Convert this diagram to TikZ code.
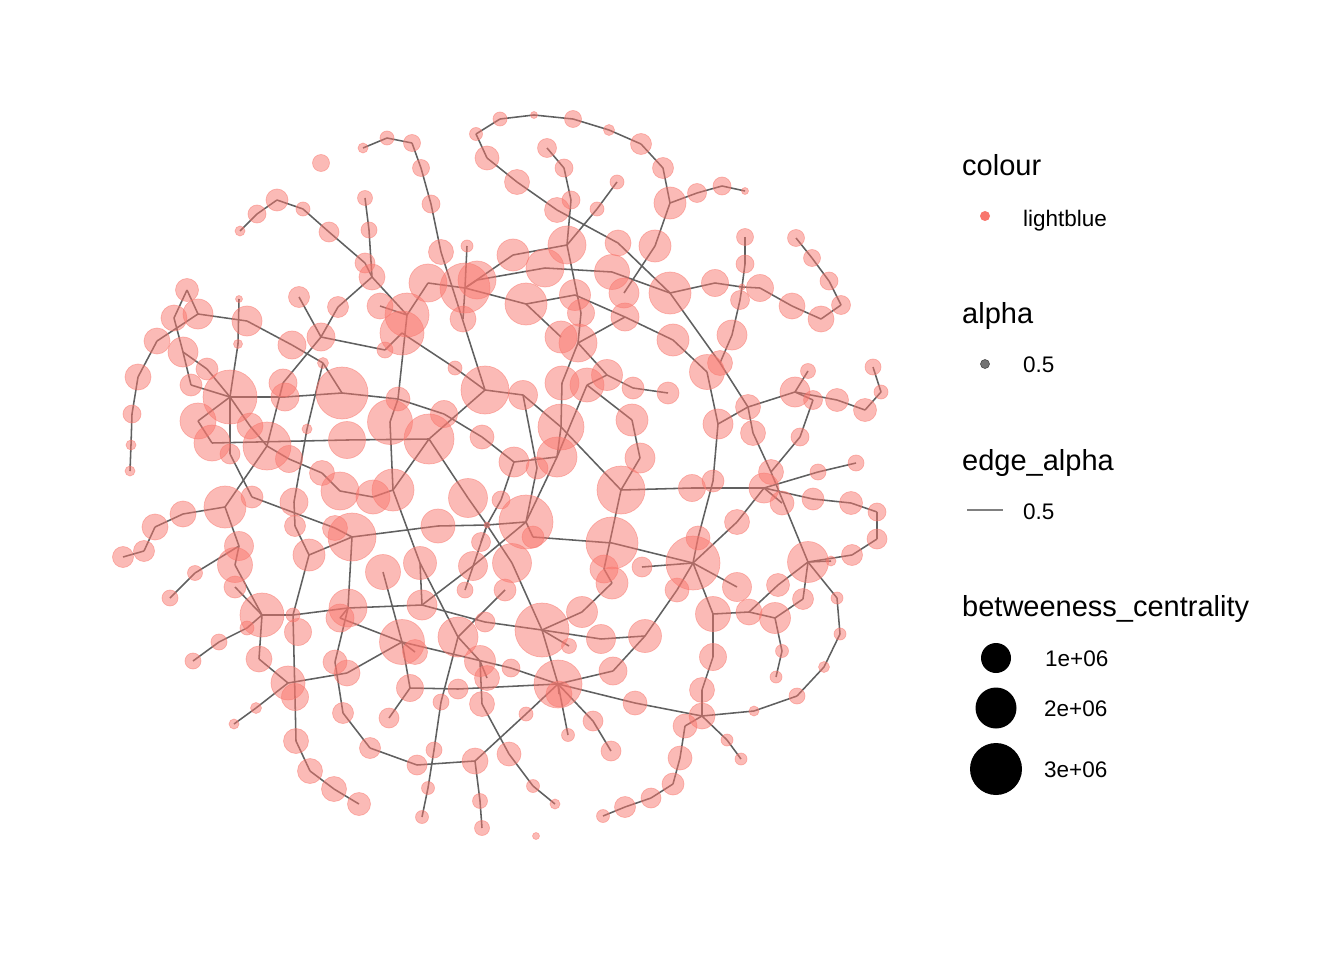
\documentclass[tikz,border=0pt]{standalone}
\usepackage{fontspec}
\setmainfont{Liberation Sans}
\usetikzlibrary{backgrounds}
\definecolor{pk}{RGB}{248,118,109}
\definecolor{eg}{RGB}{96,96,96}
\newcommand\Nd[4]{\node[gn,minimum size={2*#4pt}] (#1) at (#2,#3) {};}
\newcommand\legtitle{\fontsize{29}{34}\selectfont}
\newcommand\leglabel{\fontsize{22.5}{27}\selectfont}
\begin{document}
\begin{tikzpicture}[x=1pt,y=-1pt,
  gn/.style={circle,inner sep=0pt,fill=pk,fill opacity=0.5,draw=pk,draw opacity=0.5,line width=0.7pt},
  lnk/.style={draw=eg,line width=1.55pt},
  ttl/.style={anchor=base west,inner sep=0pt,font=\legtitle},
  lbl/.style={anchor=base west,inner sep=0pt,font=\leglabel}]
\useasboundingbox (0,0) rectangle (1344,960);
% ---- nodes ----
\Nd{a1}{363}{148}{5}\Nd{a2}{387}{138}{7}\Nd{a3}{412}{143}{8.5}\Nd{a4}{421}{168}{8.5}
\Nd{a5}{431}{204}{9}\Nd{a6}{441}{252}{12.5}
\Nd{b1}{321}{163}{8.5}\Nd{b2}{277}{200}{11}\Nd{b3}{257}{214}{9}\Nd{b4}{240}{231}{5}
\Nd{b5}{303}{209}{7}\Nd{b6}{329}{232}{10}\Nd{b7}{365}{198}{7.5}\Nd{b8}{369}{230}{8}
\Nd{b9}{365}{263}{10}\Nd{b10}{372}{277}{13}
\Nd{c1}{187}{290}{11.5}\Nd{c2}{198}{314}{15}\Nd{c3}{174}{318}{13}\Nd{c4}{157}{341}{13}
\Nd{c5}{183}{352}{15}\Nd{c6}{239}{299}{3.5}\Nd{c7}{247}{321}{15}\Nd{c8}{238}{344}{4.5}
\Nd{c9}{299}{297}{10.5}\Nd{c10}{321}{337}{14}\Nd{c11}{292}{345}{14}\Nd{c12}{338}{307}{10.5}
\Nd{c13}{380}{306}{13}\Nd{c14}{407}{315}{22}\Nd{c15}{402}{333}{22}\Nd{c16}{428}{283}{19}
\Nd{c17}{465}{288}{25}\Nd{c18}{477}{280}{19}\Nd{c19}{463}{319}{13}\Nd{c20}{467}{246}{6}
\Nd{d1}{476}{134}{6.5}\Nd{d2}{500}{119}{7}\Nd{d3}{534}{115}{3.5}\Nd{d4}{573}{119}{8.5}
\Nd{d5}{609}{130}{5.5}\Nd{d6}{641}{144}{10.5}\Nd{d7}{663}{168}{10.5}\Nd{d8}{670}{203}{16}
\Nd{d9}{697}{193}{9.5}\Nd{d10}{722}{186}{9}\Nd{d11}{745}{191}{3.5}\Nd{d12}{655}{246}{16}
\Nd{d13}{487}{158}{12}\Nd{d14}{517}{182}{12.5}\Nd{d15}{557}{210}{12.5}\Nd{d16}{547}{148}{9.5}
\Nd{d17}{564}{168}{9}\Nd{d18}{571}{200}{9}\Nd{d19}{567}{245}{19}\Nd{d20}{617}{182}{7}
\Nd{d21}{597}{209}{7}\Nd{d22}{618}{243}{13}\Nd{d23}{612}{272}{17.5}\Nd{d24}{624}{293}{15}
\Nd{d25}{625}{317}{14}\Nd{d26}{513}{255}{16}\Nd{d27}{545}{268}{19}\Nd{d28}{575}{295}{15.5}
\Nd{d29}{581}{313}{13.5}\Nd{d30}{526}{304}{21}\Nd{d31}{561}{337}{16}\Nd{d32}{578}{343}{19}
\Nd{d33}{670}{293}{21}\Nd{d34}{673}{340}{16}
\Nd{e1}{745}{237}{8.5}\Nd{e2}{745}{264}{9}\Nd{e3}{742}{287}{3}\Nd{e4}{740}{300}{9.5}
\Nd{e5}{732}{335}{15}\Nd{e6}{715}{283}{13.5}\Nd{e7}{760}{288}{13.5}\Nd{e8}{792}{306}{13}
\Nd{e9}{821}{319}{13}\Nd{e10}{841}{305}{9.5}\Nd{e11}{829}{281}{9}\Nd{e12}{812}{258}{8.5}
\Nd{e13}{796}{238}{8.5}
\Nd{f1}{707}{372}{17.5}\Nd{f2}{720}{363}{12.5}\Nd{f3}{633}{388}{11}\Nd{f4}{668}{393}{11}
\Nd{f5}{632}{420}{16}\Nd{f6}{640}{458}{15}\Nd{f7}{621}{490}{24}\Nd{f8}{748}{407}{12.5}
\Nd{f9}{718}{424}{15}\Nd{f10}{753}{433}{12.5}\Nd{f11}{795}{392}{15}\Nd{f12}{808}{371}{7.5}
\Nd{f13}{813}{400}{9.5}\Nd{f14}{837}{400}{11.5}\Nd{f15}{865}{410}{11.5}\Nd{f16}{881}{392}{7}
\Nd{f17}{873}{367}{8}\Nd{f18}{800}{437}{9}\Nd{f19}{771}{472}{12.5}\Nd{f20}{764}{488}{15}
\Nd{f21}{782}{503}{12}\Nd{f22}{692}{488}{13.5}\Nd{f23}{713}{481}{11}\Nd{f24}{818}{472}{8}
\Nd{f25}{856}{463}{8}\Nd{f26}{813}{499}{11}\Nd{f27}{851}{503}{11.5}\Nd{f28}{877}{512}{9}
\Nd{f29}{877}{539}{10}\Nd{f30}{852}{555}{10.5}\Nd{f31}{831}{561}{5}\Nd{f32}{808}{562}{20.5}
\Nd{f33}{737}{522}{12.5}\Nd{f34}{698}{538}{12}\Nd{f35}{693}{563}{27}\Nd{f36}{642}{567}{10}
\Nd{f37}{677}{590}{12}\Nd{f38}{737}{587}{14.5}\Nd{f39}{778}{585}{11.5}
\Nd{g1}{207}{369}{11}\Nd{g2}{138}{377}{13}\Nd{g3}{191}{385}{11}\Nd{g4}{230}{397}{27}
\Nd{g5}{132}{414}{9}\Nd{g6}{131}{445}{5}\Nd{g7}{130}{471}{5}\Nd{g8}{198}{421}{18}
\Nd{g9}{212}{443}{18}\Nd{g10}{230}{454}{10}\Nd{g11}{250}{426}{13}\Nd{g12}{267}{446}{24}
\Nd{g13}{289}{459}{13.5}\Nd{g14}{283}{383}{14}\Nd{g15}{285}{397}{14}\Nd{g16}{323}{363}{5.5}
\Nd{g17}{342}{393}{26}\Nd{g18}{347}{440}{18.5}\Nd{g19}{307}{429}{5}\Nd{g20}{322}{473}{12.5}
\Nd{g21}{340}{491}{19}\Nd{g22}{294}{502}{14}\Nd{g23}{295}{526}{10.5}\Nd{g24}{225}{507}{21}
\Nd{g25}{252}{497}{11}\Nd{g26}{183}{514}{13}\Nd{g27}{155}{527}{13}\Nd{g28}{144}{551}{10.5}
\Nd{g29}{123}{557}{10.5}\Nd{g30}{239}{546}{14.5}\Nd{g31}{235}{565}{17.5}\Nd{g32}{195}{573}{7.5}
\Nd{g33}{235}{587}{11}\Nd{g34}{170}{598}{8}\Nd{g35}{309}{555}{16}\Nd{g36}{335}{528}{12.5}
\Nd{g37}{352}{537}{24}\Nd{g38}{373}{497}{17}\Nd{g39}{393}{490}{21}\Nd{g40}{390}{422}{22.5}
\Nd{g41}{383}{572}{17.5}
\Nd{h1}{385}{350}{8}\Nd{h2}{455}{368}{7}\Nd{h3}{485}{390}{24}\Nd{h4}{523}{395}{14.5}
\Nd{h5}{562}{383}{17}\Nd{h6}{587}{385}{17}\Nd{h7}{607}{375}{15.5}\Nd{h8}{561}{427}{23}
\Nd{h9}{557}{457}{20}\Nd{h10}{537}{468}{11}\Nd{h11}{514}{462}{15}\Nd{h12}{482}{437}{12}
\Nd{h13}{444}{414}{13.5}\Nd{h14}{429}{439}{25}\Nd{h15}{398}{399}{12}\Nd{h16}{526}{522}{27}
\Nd{h17}{533}{537}{11}\Nd{h18}{501}{500}{9}\Nd{h19}{468}{498}{19.5}\Nd{h20}{438}{526}{17}
\Nd{h21}{420}{563}{16.5}\Nd{h22}{481}{542}{9.5}\Nd{h23}{473}{566}{14.5}\Nd{h24}{512}{563}{19.5}
\Nd{h25}{465}{590}{8}\Nd{h26}{505}{590}{11}\Nd{h27}{612}{543}{26}\Nd{h28}{604}{569}{14}
\Nd{h29}{612}{583}{16}\Nd{m1}{487}{525}{3}
\Nd{i1}{262}{615}{22}\Nd{i2}{247}{628}{7}\Nd{i3}{293}{615}{7}\Nd{i4}{298}{632}{13.5}
\Nd{i5}{348}{608}{19}\Nd{i6}{340}{618}{14}\Nd{i7}{219}{642}{8}\Nd{i8}{193}{661}{8}
\Nd{i9}{259}{659}{13}\Nd{i10}{288}{683}{17}\Nd{i11}{295}{697}{13.5}\Nd{i12}{335}{662}{12}
\Nd{i13}{347}{673}{13}\Nd{i14}{256}{708}{5.5}\Nd{i15}{234}{724}{5}\Nd{i16}{343}{713}{10.5}
\Nd{i17}{296}{741}{12.5}\Nd{i18}{370}{748}{10.5}\Nd{i19}{310}{771}{12.5}\Nd{i20}{334}{789}{12.5}
\Nd{i21}{359}{804}{11.5}
\Nd{j1}{422}{605}{15}\Nd{j4}{402}{642}{22.5}\Nd{j5}{415}{652}{12.5}\Nd{j6}{458}{637}{20}
\Nd{j7}{485}{622}{10}\Nd{j8}{480}{661}{15.5}\Nd{j9}{487}{678}{12.5}\Nd{j10}{511}{668}{9}
\Nd{j11}{542}{630}{27}\Nd{j12}{582}{612}{15.5}\Nd{j14}{569}{646}{7.5}\Nd{j15}{601}{639}{14.5}
\Nd{j16}{645}{636}{16.5}\Nd{j17}{558}{684}{24}\Nd{j18}{559}{694}{13}\Nd{j19}{613}{671}{14}
\Nd{j20}{635}{703}{12}\Nd{j21}{526}{714}{7}\Nd{j22}{593}{721}{10}\Nd{j23}{568}{735}{6.5}
\Nd{j24}{611}{751}{10}\Nd{j25}{410}{688}{13.5}\Nd{j26}{458}{689}{10}\Nd{j27}{441}{702}{8}
\Nd{j28}{482}{704}{12.5}\Nd{j29}{389}{718}{10}\Nd{j30}{417}{765}{10}\Nd{j31}{434}{750}{8}
\Nd{j32}{475}{761}{13}\Nd{j33}{509}{754}{12}\Nd{j34}{428}{788}{6.5}\Nd{j35}{422}{817}{6.5}
\Nd{j36}{480}{801}{7.5}\Nd{j37}{482}{828}{7.5}\Nd{j38}{533}{786}{6.5}\Nd{j39}{555}{804}{5}
\Nd{j40}{536}{836}{3.5}\Nd{j41}{603}{816}{6.5}\Nd{j42}{625}{807}{10.5}
\Nd{k2}{713}{614}{17.5}\Nd{k3}{749}{612}{13}\Nd{k4}{775}{618}{15.5}\Nd{k6}{803}{599}{10.5}
\Nd{k7}{837}{598}{6}\Nd{k8}{840}{634}{6}\Nd{k9}{824}{667}{5.5}\Nd{k10}{797}{696}{8}
\Nd{k11}{754}{711}{5}\Nd{k12}{782}{651}{6.5}\Nd{k13}{776}{677}{6}\Nd{k14}{713}{657}{13.5}
\Nd{k15}{702}{690}{12.5}\Nd{k16}{702}{716}{13}\Nd{k17}{685}{726}{12}\Nd{k18}{727}{740}{6}
\Nd{k19}{741}{759}{6}\Nd{k20}{680}{758}{12}\Nd{k21}{673}{784}{11}\Nd{k22}{651}{798}{10}
% ---- edges (under the nodes) ----
\begin{scope}[on background layer]
\foreach \u/\v in {a1/a2,a2/a3,a3/a4,a4/a5,a5/a6,a6/h3,
b4/b3,b3/b2,b2/b5,b5/b6,b6/b9,b9/b10,b7/b8,b8/b10,b10/c12,c12/c10,b10/c14,
c1/c3,c1/c2,c2/c4,c3/c5,c2/c7,c7/c11,c11/g16,g16/g17,c6/c8,c8/g4,c9/c10,c10/g14,c10/h1,h1/c15,c13/c14,c14/c16,c16/c17,c14/h15,h15/g40,g40/g39,
c17/c18,c17/c19,c17/c20,c17/d26,d26/d19,d19/d21,d21/d20,c18/d27,d27/d23,d23/d33,c17/d30,d30/d28,d28/d25,d25/d34,d19/d29,d29/d32,d30/d31,d25/d32,
d1/d2,d2/d3,d3/d4,d4/d5,d5/d6,d6/d7,d7/d8,d8/d12,d12/d24,d8/d9,d9/d10,d10/d11,d1/d13,d13/d14,d14/d15,d15/d22,d22/d33,d16/d17,d17/d18,d18/d19,d33/f2,d34/f1,d32/h5,h7/d32,
e13/e12,e12/e11,e11/e10,e10/e9,e9/e8,e8/e7,e7/e3,e3/e6,e6/d33,e1/e2,e2/e3,e3/e4,e4/e5,e5/f2,
f2/f8,f9/f8,f8/f11,f8/f10,f10/f19,f19/f32,f11/f12,f11/f13,f13/f18,f18/f19,f11/f14,f14/f15,f15/f16,f16/f17,f7/f22,f22/f20,f1/f9,f9/f23,f23/f34,f34/f35,f20/f24,f24/f25,f20/f26,f26/f27,f27/f28,f28/f29,f29/f30,f30/f32,f20/f33,f33/f35,f20/f21,f32/k7,f32/f39,f32/k6,f32/f31,f35/f36,f35/f37,f35/f38,f35/k2,h27/f35,h7/f3,f3/f4,h6/f5,f5/f6,f6/f7,
c15/h2,h2/h3,h3/h4,h4/h8,h8/f7,g17/h15,h15/h13,h13/h12,h12/h11,h11/h9,h9/h6,h6/h7,h3/h14,h14/g39,h14/h19,h19/m1,h11/h18,h18/m1,m1/h25,g37/h20,h20/m1,m1/h16,m1/h24,h24/j11,h16/h17,h17/h27,h4/h10,h10/h16,h5/h8,h8/h9,h9/h16,g39/h21,h21/j1,f7/h28,h28/h29,h29/j12,h16/h23,h23/j1,h22/m1,
c4/g2,g2/g5,g5/g6,g6/g7,c5/g3,g3/g4,c5/g1,g1/g4,g4/g15,g15/g17,g4/g8,g8/g9,g9/g18,g18/h14,g4/g10,g10/g25,g25/g36,g36/g37,g4/g11,g11/g12,g12/g13,g13/g20,g20/g21,g21/g38,g38/g39,g12/g24,g24/g26,g26/g27,g27/g28,g28/g29,g24/g30,g30/g31,g31/i1,g30/g32,g32/g34,g33/i1,g14/g12,g16/g19,g19/g22,g22/g23,g23/g35,g35/i3,g35/g37,g37/i5,g41/j4,
i1/i2,i2/i7,i7/i8,i1/i3,i3/i5,i1/i9,i9/i10,i3/i11,i11/i17,i17/i19,i19/i20,i20/i21,i10/i14,i14/i15,i10/i13,i13/j4,i5/i12,i12/i16,i16/i18,i18/j30,j30/j32,i5/i6,
i5/j1,j1/j7,j7/j11,j11/j15,j15/j16,i6/j4,j4/j5,j4/j10,j10/j17,j4/j25,j25/j29,j25/j26,j26/j17,h21/j6,h26/j6,j6/j8,j8/j28,j28/j33,j33/j38,j38/j39,j6/j27,j27/j31,j31/j34,j34/j35,j11/j17,j11/j12,j11/j14,j17/j18,j17/j19,j19/j16,j17/j20,j17/j23,j17/j22,j22/j24,j17/j21,j21/j32,j32/j36,j36/j37,j41/j42,j9/j8,
f37/j16,k2/k14,k14/k15,k15/k16,k16/k17,k17/k20,k20/k21,k21/k22,k22/j42,k6/k4,k4/k3,k3/k2,k3/f39,k4/k12,k12/k13,k7/k8,k8/k9,k9/k10,k10/k11,k11/k16,k16/j20,k16/k18,k18/k19}
  \draw[lnk] (\u.center) -- (\v.center);
\end{scope}
% ---- legend ----
\node[ttl] (t1) at (962,176) {colour};
\node[circle,inner sep=0pt,minimum size=10pt,fill=pk] (lk1) at (985,216) {};
\node[lbl] (l1) at (1023,226) {lightblue};
\node[ttl] (t2) at (962,323) {alpha};
\node[circle,inner sep=0pt,minimum size=9pt,fill=black!55,draw=black!70,line width=0.6pt] (lk2) at (985,364) {};
\node[lbl] (l2) at (1023,372) {0.5};
\node[ttl] (t3) at (962,470) {edge\_alpha};
\coordinate (lk3a) at (967,510);
\coordinate (lk3b) at (1003,510);
\draw[draw=black!50,line width=1.1pt] (lk3a) -- (lk3b);
\node[lbl] (l3) at (1023,519) {0.5};
\node[ttl] (t4) at (962,616) {betweeness\_centrality};
\node[circle,inner sep=0pt,minimum size=30pt,fill=black] (s1) at (996,658) {};
\node[circle,inner sep=0pt,minimum size=41pt,fill=black] (s2) at (996,708) {};
\node[circle,inner sep=0pt,minimum size=52pt,fill=black] (s3) at (996,769) {};
\node[lbl] (l4) at (1045,666) {1e+06};
\node[lbl] (l5) at (1044,716) {2e+06};
\node[lbl] (l6) at (1044,777) {3e+06};
\end{tikzpicture}
\end{document}
